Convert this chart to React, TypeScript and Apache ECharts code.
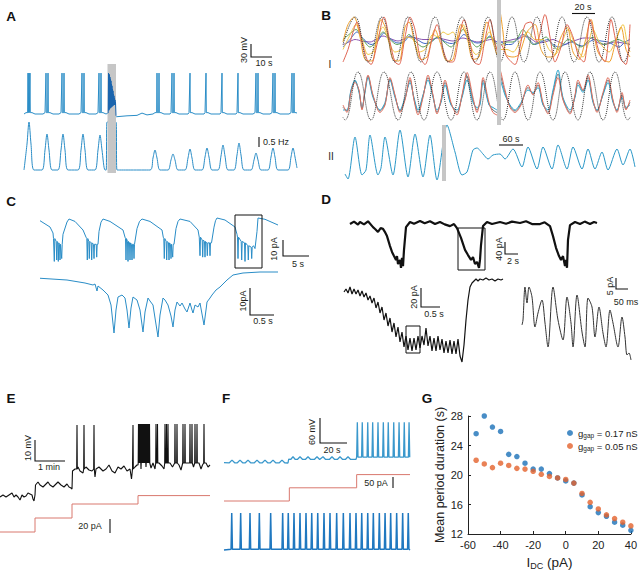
import React, { useEffect, useRef } from "react";
import * as echarts from "echarts";

type Pt = [number, number];
type Spk = [number, number, number];

const FONT = "'Liberation Sans', Arial, sans-serif";

// ---------------- Panel A ----------------
// membrane potential (t in s, mV)
const A_vmBase: Pt[] = [
  [-1.5, -60], [-0.5, -57], [2.5, -57], [4, -60],
  [8, -60], [9, -57], [11.5, -57], [13, -60],
  [16, -60], [17, -57], [19.5, -57], [21, -60],
  [26, -60], [27, -57], [29.5, -57], [31, -60],
  [34.5, -60], [35.5, -57], [38, -57], [39.5, -60], [40.5, -58],
  [44.75, -66], [50, -64], [55, -63], [57.5, -58], [60, -62], [63, -60],
  [64, -57], [67, -57], [68.5, -60],
  [71.5, -60], [72, -57], [74.5, -57], [76, -60],
  [80.5, -60], [81, -57], [82.5, -57], [84, -60],
  [88.5, -60], [89, -57], [90.5, -57], [92, -60],
  [96.5, -60], [97, -57], [98.5, -57], [100, -60],
  [104.5, -60], [105, -57], [106.5, -57], [108, -60],
  [113, -60], [114, -57], [116.5, -57], [118, -60],
  [121.5, -60], [122.5, -57], [125, -57], [126.5, -60],
  [131, -60], [132, -57], [134.5, -57], [135, -58],
];
const A_spikeTimes = [0.5, 1, 1.5, 9.5, 10.5, 17.5, 18.5, 27.5, 28.5, 36, 37, 65, 66, 72.5, 73.5, 81.5, 89.5, 97.5, 105.5, 114.5, 115.5, 123, 124, 132.5, 133.5];
const A_spikePeak = 30;
const A_spikeFoot = -57;
const A_stimBurst: Pt[] = [
  [40.6, -58], [40.75, 30], [40.9, -52], [41.0, 28], [41.15, -50], [41.25, 26], [41.4, -48], [41.5, 21],
  [41.65, -47], [41.75, 17], [41.9, -46], [42.0, 13], [42.15, -45], [42.25, 6], [42.4, -44], [42.5, 2],
  [42.65, -43], [42.75, -5], [42.9, -42], [43.0, -9], [43.15, -41], [43.25, -16], [43.4, -40], [43.5, -20],
  [43.65, -40], [43.75, -25], [43.9, -40], [44.0, -29], [44.15, -40], [44.25, -34], [44.5, -64],
];
// firing rate (Hz)
const A_rate: Pt[] = [
  [-1.5, 0], [0, 1.3], [1, 2.4], [2, 1.3], [3.5, 0],
  [7.5, 0], [9, 1.0], [10, 1.8], [11, 1.0], [12.5, 0],
  [15.5, 0], [17, 1.0], [18, 1.8], [19, 1.0], [20.5, 0],
  [25.5, 0], [27, 1.0], [28, 1.8], [29, 1.0], [30.5, 0],
  [34, 0], [35.5, 1.0], [36.5, 1.75], [37.5, 1.0], [39, 0], [39.6, 0], [40, 2.4], [44.5, 2.4], [45, 0],
  [61.5, 0], [63, 0.6], [64, 1.0], [65, 0.6], [66.5, 0],
  [70.5, 0], [72, 0.5], [73, 0.8], [74, 0.5], [75.5, 0],
  [79, 0], [80.5, 0.6], [81.5, 1.05], [82.5, 0.6], [84, 0],
  [87.5, 0], [89, 0.65], [90, 1.1], [91, 0.65], [92.5, 0],
  [95.5, 0], [97, 0.7], [98, 1.25], [99, 0.7], [100.5, 0],
  [103.5, 0], [105, 0.75], [106, 1.35], [107, 0.75], [108.5, 0],
  [112, 0], [113.5, 0.5], [114.5, 0.85], [115.5, 0.5], [117, 0],
  [120.5, 0], [122, 0.65], [123, 1.1], [124, 0.65], [125.5, 0],
  [130.5, 0], [132, 0.65], [133, 1.1], [134, 0.65], [135, 0.1],
];

// ---------------- Panel B (I) ----------------
const BI_ref: Pt[] = [[0, 0.45], [12, 1.0], [25, 0.1], [39, 1.0], [52, 0.1], [65, 1.0], [78, 0.1], [92, 1.0], [105, 0.1], [119, 1.0], [132, 0.1], [145, 1.0], [157, 0.1], [169, 1.0], [181, 0.1], [194, 1.0], [206, 0.1], [219, 1.0], [231, 0.1], [244, 1.0], [256, 0.1], [269, 1.0], [281, 0.1], [287, 0.4]];
const BI_orange: Pt[] = [[0, 0.5], [5, 0.85], [11, 1.0], [17, 0.6], [22, 0.15], [29, 0.12], [33, 0.5], [38, 0.95], [44, 0.7], [50, 0.15], [56, 0.12], [62, 0.8], [66, 0.9], [72, 0.45], [78, 0.15], [84, 0.2], [92, 0.75], [97, 0.5], [104, 0.12], [110, 0.15], [118, 0.85], [124, 0.6], [130, 0.15], [136, 0.2], [144, 0.9], [150, 0.5], [154, 0.25], [157, 1.1], [160, 0.7], [163, 0.25], [170, 0.2], [176, 0.25], [184, 0.7], [192, 0.85], [198, 0.35], [204, 0.2], [210, 0.2], [218, 0.6], [224, 0.8], [230, 0.3], [236, 0.15], [242, 0.5], [248, 0.95], [254, 0.35], [260, 0.15], [266, 0.1], [272, 0.45], [278, 0.8], [283, 0.35], [287, 0.2]];
const BI_red: Pt[] = [[0, 0.1], [5, 0.35], [10, 0.7], [14, 0.9], [19, 0.5], [24, 0.15], [28, 0.05], [34, 0.45], [41, 1.0], [47, 0.5], [52, 0.1], [56, 0.05], [62, 0.6], [67, 1.0], [72, 0.75], [77, 0.2], [82, 0.05], [89, 0.55], [94, 0.85], [100, 0.35], [106, 0.1], [110, 0.1], [116, 0.6], [121, 0.95], [127, 0.5], [131, 0.1], [136, 0.05], [142, 0.55], [147, 0.95], [152, 0.5], [155, 0.3], [158, 0.45], [164, 0.2], [172, 0.05], [177, 0.4], [182, 0.85], [188, 0.9], [194, 0.5], [202, 1.05], [207, 0.6], [212, 0.1], [218, 0.4], [224, 0.85], [230, 0.6], [236, 0.2], [241, 0.1], [247, 0.95], [252, 0.6], [257, 0.25], [262, 0.1], [268, 0.95], [273, 0.5], [278, 0.15], [283, 0.05], [287, 0.85]];
const BI_yellow: Pt[] = [[0, 0.35], [6, 0.6], [13, 0.85], [19, 0.55], [25, 0.25], [30, 0.3], [40, 0.8], [46, 0.5], [52, 0.3], [58, 0.35], [64, 0.6], [70, 0.55], [76, 0.3], [82, 0.35], [90, 0.65], [95, 0.6], [100, 0.7], [105, 0.65], [110, 0.7], [114, 0.55], [120, 0.85], [126, 0.5], [133, 0.25], [140, 0.4], [146, 0.7], [152, 0.45], [155, 0.35], [158, 0.35], [164, 0.35], [170, 0.3], [178, 0.55], [185, 0.7], [192, 0.55], [200, 0.55], [206, 0.35], [212, 0.25], [219, 0.5], [225, 0.75], [232, 0.45], [240, 0.2], [245, 0.45], [250, 0.75], [255, 0.55], [260, 0.4], [266, 0.3], [273, 0.55], [280, 0.85], [284, 0.5], [287, 0.3]];
const BI_green: Pt[] = [[0, 0.55], [6, 0.65], [13, 0.75], [20, 0.55], [27, 0.4], [33, 0.5], [40, 0.7], [47, 0.55], [54, 0.45], [60, 0.5], [66, 0.65], [73, 0.5], [80, 0.4], [88, 0.5], [95, 0.6], [101, 0.5], [108, 0.4], [114, 0.55], [120, 0.75], [127, 0.55], [134, 0.4], [140, 0.5], [147, 0.6], [152, 0.5], [155, 0.45], [158, 0.45], [164, 0.5], [170, 0.5], [175, 0.6], [180, 0.75], [185, 0.6], [190, 0.45], [196, 0.5], [203, 0.6], [209, 0.45], [215, 0.35], [220, 0.45], [225, 0.55], [231, 0.5], [238, 0.4], [244, 0.5], [250, 0.6], [256, 0.5], [262, 0.45], [268, 0.5], [275, 0.55], [281, 0.5], [287, 0.45]];
const BI_blue: Pt[] = [[0, 0.4], [7, 0.55], [14, 0.7], [21, 0.55], [28, 0.45], [34, 0.5], [41, 0.68], [48, 0.55], [55, 0.48], [61, 0.5], [67, 0.62], [74, 0.55], [82, 0.47], [88, 0.5], [95, 0.6], [101, 0.52], [108, 0.47], [114, 0.5], [121, 0.65], [127, 0.55], [134, 0.48], [140, 0.5], [147, 0.62], [152, 0.52], [155, 0.5], [158, 0.5], [163, 0.45], [168, 0.45], [174, 0.55], [180, 0.65], [186, 0.55], [192, 0.45], [198, 0.5], [205, 0.55], [210, 0.45], [216, 0.4], [222, 0.45], [228, 0.5], [234, 0.45], [240, 0.42], [246, 0.5], [252, 0.55], [258, 0.52], [265, 0.5], [270, 0.45], [276, 0.4], [282, 0.5], [287, 0.55]];
const BI_purple: Pt[] = [[0, 0.45], [6, 0.5], [12, 0.55], [19, 0.52], [27, 0.5], [33, 0.55], [40, 0.62], [47, 0.57], [55, 0.52], [60, 0.55], [66, 0.6], [73, 0.58], [80, 0.55], [88, 0.55], [95, 0.58], [102, 0.55], [110, 0.52], [115, 0.55], [120, 0.58], [128, 0.53], [135, 0.5], [141, 0.52], [148, 0.55], [155, 0.5], [158, 0.5], [164, 0.52], [170, 0.55], [177, 0.58], [183, 0.62], [189, 0.55], [195, 0.48], [202, 0.5], [210, 0.55], [216, 0.5], [222, 0.45], [228, 0.5], [235, 0.55], [241, 0.58], [248, 0.58], [254, 0.5], [260, 0.45], [266, 0.47], [272, 0.5], [280, 0.48], [287, 0.45]];
const BI2_ref: Pt[] = [[0, 0.05], [2, 0.0], [15, 0.96], [28, 0.0], [41, 0.96], [55, 0.0], [68, 0.96], [81, 0.0], [94, 0.96], [108, 0.0], [121, 0.96], [134, 0.0], [147, 0.96], [160, 0.0], [172, 0.96], [185, 0.0], [197, 0.96], [210, 0.0], [222, 0.96], [235, 0.0], [247, 0.96], [260, 0.0], [272, 0.96], [285, 0.0], [287, 0.05]];
const BI2_red: Pt[] = [[0, 0.3], [4, 0.15], [8, 0.55], [12, 0.75], [16, 0.6], [19, 0.2], [22, 0.6], [25, 0.9], [30, 0.5], [37, 0.15], [42, 0.3], [47, 0.85], [52, 0.5], [57, 0.15], [62, 0.4], [67, 0.85], [71, 0.4], [75, 0.1], [80, 0.45], [85, 0.9], [90, 0.5], [94, 0.12], [98, 0.4], [102, 0.8], [108, 0.35], [114, 0.1], [119, 0.5], [124, 0.95], [130, 0.45], [134, 0.15], [137, 0.4], [140, 0.85], [146, 0.35], [150, 0.15], [154, 0.1], [157, 1.0], [162, 0.6], [167, 0.25], [172, 0.15], [178, 0.3], [185, 0.7], [190, 0.5], [195, 0.75], [200, 0.35], [205, 0.12], [210, 0.5], [215, 0.85], [220, 0.4], [227, 0.12], [232, 0.5], [235, 0.8], [240, 0.6], [245, 0.9], [250, 0.4], [254, 0.15], [260, 0.55], [265, 0.85], [270, 0.4], [274, 0.15], [279, 0.55], [283, 0.2], [287, 0.4]];
const BI2_teal: Pt[] = [[0, 0.2], [4, 0.2], [8, 0.6], [12, 0.8], [16, 0.55], [19, 0.25], [22, 0.55], [25, 0.85], [30, 0.45], [37, 0.2], [42, 0.35], [47, 0.8], [52, 0.45], [57, 0.2], [62, 0.45], [67, 0.75], [71, 0.45], [75, 0.2], [80, 0.5], [85, 0.8], [90, 0.45], [94, 0.2], [98, 0.35], [102, 0.7], [108, 0.3], [114, 0.2], [119, 0.45], [124, 0.8], [130, 0.35], [134, 0.25], [137, 0.3], [140, 0.75], [146, 0.3], [150, 0.25], [154, 0.2], [157, 0.8], [162, 0.5], [167, 0.3], [172, 0.2], [178, 0.35], [185, 0.6], [190, 0.55], [195, 0.65], [200, 0.3], [205, 0.2], [210, 0.6], [215, 1.0], [220, 0.45], [227, 0.2], [232, 0.45], [235, 0.7], [240, 0.55], [245, 0.8], [250, 0.35], [254, 0.2], [260, 0.5], [265, 0.75], [270, 0.35], [274, 0.2], [279, 0.45], [283, 0.25], [287, 0.3]];
const BI2_dark: Pt[] = [[0, 0.25], [4, 0.18], [8, 0.58], [12, 0.78], [16, 0.58], [19, 0.22], [22, 0.58], [25, 0.88], [30, 0.48], [37, 0.18], [42, 0.32], [47, 0.82], [52, 0.48], [57, 0.18], [62, 0.42], [67, 0.8], [71, 0.42], [75, 0.15], [80, 0.48], [85, 0.85], [90, 0.48], [94, 0.15], [98, 0.38], [102, 0.75], [108, 0.32], [114, 0.15], [119, 0.48], [124, 0.88], [130, 0.4], [134, 0.2], [137, 0.35], [140, 0.8], [146, 0.32], [150, 0.2], [154, 0.15], [157, 0.9], [162, 0.55], [167, 0.28], [172, 0.18], [178, 0.32], [185, 0.65], [190, 0.52], [195, 0.7], [200, 0.32], [205, 0.15], [210, 0.55], [215, 0.92], [220, 0.42], [227, 0.15], [232, 0.48], [235, 0.75], [240, 0.58], [245, 0.85], [250, 0.38], [254, 0.18], [260, 0.52], [265, 0.8], [270, 0.38], [274, 0.18], [279, 0.5], [283, 0.22], [287, 0.35]];

// ---------------- Panel B (II) ----------------
const BII_trace: Pt[] = [[0, 0.12], [7.5, 0.02], [25, 0.86], [42.5, 0.1], [52.5, 0.2], [62.5, 0.9], [82.5, 0.1], [90, 0.24], [100, 0.86], [120, 0.1], [137.5, 1.0], [157.5, 0.06], [175, 0.92], [195, 0.06], [212.5, 0.9], [230, 0.0], [255, 1.1], [275, 0.56], [292.5, 0.1], [305, 0.16], [320, 0.6], [330, 0.64], [345, 0.52], [357.5, 0.42], [370, 0.5], [387.5, 0.52], [400, 0.42], [420, 0.62], [442.5, 0.26], [457.5, 0.66], [480, 0.22], [495, 0.66], [517.5, 0.22], [532.5, 0.7], [555, 0.22], [570, 0.66], [592.5, 0.22], [607.5, 0.62], [625, 0.22], [642.5, 0.56], [657.5, 0.2], [680, 0.62], [695, 0.3], [712.5, 0.62], [725, 0.26]];

// ---------------- Panel C ----------------
const C_top: Pt[] = [
  [0, -0.5], [2, -4.9], [2.6, -9.1], [2.7, -13],
  [4.5, -17], [4.6, -10], [5.4, -1.4], [5.8, 0.7], [7, -1], [8.6, -7], [9.2, -12],
  [11.6, -17], [11.8, -8], [12.2, -1.5], [12.6, 0.7], [14, -1], [16.6, -7], [17, -12],
  [19, -17], [19.4, -6], [19.9, -1], [20.4, 0.7], [22, -1], [24.4, -7], [24.65, -12],
  [26.8, -17], [27.2, -6], [27.6, -1], [28, 0.7], [30, -1], [31.6, -7], [31.85, -12],
  [34.3, -16], [34.8, -5], [35.1, -0.5], [35.4, 1.4], [37, 0], [39, -4.9], [39.4, -10],
  [42.7, -18], [43, -20], [43.4, -8], [43.6, 1.4], [45, 0.5], [47.6, -3.5],
];
const C_topEvents: Spk[] = [
  [2.86, -13, -29], [3.34, -15, -28], [3.66, -16, -29], [4.0, -17, -28], [4.34, -17, -27],
  [9.46, -13, -28], [9.86, -15, -27], [10.34, -16, -28], [10.8, -17, -27], [11.34, -17, -26],
  [17.2, -13, -28], [17.6, -15, -29], [18.0, -16, -28], [18.4, -17, -28], [18.8, -17, -27],
  [24.86, -13, -27], [25.34, -15, -28], [25.8, -16, -28], [26.2, -17, -27], [26.54, -17, -26],
  [32.0, -12, -25], [32.54, -14, -26], [33.0, -15, -26], [33.46, -16, -25], [34.0, -16, -25],
  [39.6, -12, -27], [40.34, -15, -28], [41.0, -16, -29], [41.66, -18, -28], [42.34, -19, -27],
];
const C_zoom: Pt[] = [[0, -0.1], [0.54, -0.8], [0.9, -2.0], [1.06, -2.8], [1.1, -2.4], [1.14, -5.2], [1.16, -3.2], [1.26, -4.8], [1.36, -6.8], [1.42, -10.8], [1.48, -22], [1.52, -12.8], [1.56, -7.6], [1.64, -6.8], [1.7, -8], [1.74, -12.8], [1.78, -20], [1.82, -12], [1.86, -7.6], [1.94, -8.8], [2.0, -12.8], [2.06, -21.6], [2.1, -13.6], [2.16, -8], [2.2, -9.2], [2.26, -10.8], [2.3, -16], [2.36, -23.6], [2.4, -14.8], [2.46, -8], [2.5, -8.8], [2.56, -10.8], [2.62, -15.2], [2.66, -19.6], [2.7, -12.8], [2.74, -9.6], [2.8, -11.2], [2.84, -10], [2.9, -12.4], [2.94, -13.6], [3.0, -10], [3.04, -12.8], [3.06, -14], [3.1, -10.8], [3.16, -11.6], [3.2, -10], [3.24, -14.4], [3.28, -18.8], [3.32, -12.8], [3.34, -9.6], [3.4, -8], [3.44, -6.8], [3.52, -4.8], [3.6, -3.6], [3.74, -0.8], [3.86, 1.2], [4.06, 2.0], [4.4, 2.4], [4.76, 2.4]];

// ---------------- Panel D ----------------
const D_top: Pt[] = [[0, -3], [0.6, 4], [1.2, -5], [1.5, 3], [2.1, -4], [2.7, 5], [3.45, -12], [3.8, -18], [4.2, -26], [4.6, -15], [4.95, -17], [5.3, -28], [5.55, -38], [6, -67], [6.3, -84], [6.6, -96], [6.9, -107], [7.05, -96], [7.2, -119], [7.5, -107], [7.65, -130], [7.8, -101], [7.95, -125], [8.1, -78], [8.4, -12], [9, 3], [9.6, -2], [10.5, 6], [11.2, -1], [12, 5], [12.75, -3], [13.5, 3], [14.2, -4], [15, -9], [15.6, -3], [16.05, -15], [16.65, -43], [17.25, -78], [17.7, -93], [18.15, -107], [18.45, -99], [18.75, -119], [19.05, -113], [19.35, -130], [19.5, -107], [19.65, -64], [19.95, -9], [20.55, 3], [21.3, -3], [22.5, 3], [23.4, -2], [24.3, 4], [25.5, 0], [26.4, 5], [27.3, -3], [28.5, -3], [29.2, 2], [30, -9], [30.45, -38], [30.9, -72], [31.35, -96], [31.65, -107], [31.95, -96], [32.25, -125], [32.4, -107], [32.55, -130], [32.7, -49], [33, -6], [33.75, 3], [34.5, -3], [35.2, 4], [36, -3], [36.6, 3], [37.05, 0]];
const D_burst: Pt[] = [[0, 0], [0.05, 3.3], [0.1, -1.1], [0.15, 5.5], [0.2, -2.2], [0.25, 3.3], [0.3, -2.2], [0.35, 2.2], [0.4, -4.4], [0.45, 1.1], [0.5, -5.5], [0.55, -1.1], [0.6, -8.8], [0.65, -4.4], [0.7, -12.1], [0.75, -6.6], [0.8, -17.6], [0.85, -11], [0.9, -23.1], [0.95, -16.5], [1.0, -30.8], [1.05, -23.1], [1.1, -37.4], [1.15, -28.6], [1.2, -44], [1.25, -34.1], [1.3, -49.5], [1.35, -38.5], [1.4, -55], [1.45, -44], [1.5, -60.5], [1.55, -48.4], [1.6, -63.8], [1.65, -50.6], [1.7, -64.9], [1.75, -50.6], [1.8, -63.8], [1.85, -48.4], [1.9, -61.6], [1.95, -48.4], [2.0, -58.3], [2.05, -39.6], [2.1, -59.4], [2.15, -48.4], [2.2, -64.9], [2.25, -50.6], [2.3, -64.9], [2.35, -48.4], [2.4, -63.8], [2.45, -51.7], [2.5, -67.1], [2.55, -53.9], [2.6, -67.1], [2.65, -52.8], [2.7, -68.2], [2.75, -53.9], [2.8, -68.2], [2.85, -51.7], [2.9, -70.4], [2.95, -77], [3.0, -58.3], [3.05, -30.8], [3.1, -8.8], [3.15, 5.5], [3.2, 9.9], [3.25, 12.1], [3.3, 14.3], [3.35, 12.1], [3.4, 14.3], [3.475, 13.2], [3.55, 15.4], [3.625, 13.2], [3.7, 14.3], [3.775, 12.1], [3.85, 14.3], [3.925, 13.2], [3.975, 14.3]];
const D_osc: Pt[] = [[0, 2.5], [3, 5], [9, 21.5], [15, 13.5], [21, 21.5], [30, 16.5], [39, 1.5], [48, 8.5], [60, 15], [69, 3.5], [78, -8.5], [93, 21.5], [108, 5], [123, -5], [135, 16.5], [147, 3.5], [153, -8.5], [165, 17.5], [180, -1], [189, -8.5], [198, 16], [210, 11.5], [219, -3.5], [231, 11.5], [243, -1.5], [252, -8.5], [264, 10], [273, 3.5], [288, -8.5], [300, 6.5], [309, -3.5], [315, -12.5], [321, -11.5], [327, -15]];

// ---------------- Panel E ----------------
const E_vmBase: Pt[] = [
  [0, -60], [6, -59], [12, -60], [18, -59], [24, -58], [28, -60], [32, -59], [36, -60], [40, -61.5], [44, -59], [48, -60], [52, -59.5], [56, -58], [60, -58.5], [64, -59], [66, -61], [68, -62], [70, -59],
  [71, -54], [76, -52.5], [80, -54], [86, -55], [96, -52.5], [100, -54], [106, -55], [116, -52.5], [122, -54], [128, -55], [134, -53.5], [138, -55], [142, -55.5], [144, -56],
  [145, -47], [150, -46], [156, -45], [160, -47], [166, -48], [172, -45], [178, -46.5], [184, -47], [190, -50], [192, -46], [198, -45], [206, -47], [212, -46], [218, -44], [224, -47], [230, -48], [236, -45], [242, -46], [248, -44.5], [254, -47], [260, -46], [263, -51], [265, -46], [270, -45], [274, -44],
  [276, -44], [282, -46], [286, -42], [292, -45], [296, -43], [302, -45.5], [306, -43], [310, -46], [318, -43], [324, -44.5], [328, -46], [340, -43], [345, -45], [358, -44], [362, -46.5], [375, -43], [387, -45], [398, -43], [402, -46], [405, -44], [412, -43], [416, -45], [420, -44],
];
const E_spikes: Spk[] = [
  [154, -46, -24], [168, -46, -24], [188, -46, -24], [266, -46, -24],
  [277, -43, -23.5], [279, -43, -23.5], [281, -43, -23.5], [283, -43, -23.5], [285, -43, -23.5], [287, -43, -23.5], [289, -43, -23.5], [291, -43, -23.5], [293, -43, -23.5], [295, -43, -23.5], [297, -43, -23.5], [299, -43, -23.5],
  [312, -43, -23.5], [315, -43, -23.5], [330, -43, -23.5], [333, -43, -23.5], [336, -43, -23.5], [350, -43, -23.5], [354, -43, -23.5], [366, -43, -23.5], [370, -43, -23.5], [380, -43, -23.5], [384, -43, -23.5], [390, -43, -23.5], [394, -43, -23.5], [408, -43, -23.5],
];
const E_stepTimes = [0, 70, 144, 276, 420];
const E_stepLevels = [0, 20, 40, 52, 52];

// ---------------- Panel F ----------------
const F_vmBase: Pt[] = [[0, -59], [4, -59.5], [6, -53], [8, -59.5], [10, -59.5], [12, -53], [14, -59.5], [16, -59.5], [18, -53], [20, -59.5], [22.75, -59.5], [24.75, -53], [26.75, -59.5], [28.75, -59.5], [30.75, -53], [32.75, -59.5], [34.75, -59.5], [36.75, -53], [38.75, -59.5], [41.5, -59.5], [43.5, -53], [45.5, -59.5], [48, -60], [48.5, -51], [50, -51.5], [51.75, -45], [53.5, -51.5], [55, -51.5], [57, -45], [59, -51.5], [61, -51.5], [63, -45], [65, -51.5], [67.75, -51.5], [69.75, -45], [71.75, -51.5], [72.25, -51.5], [74.25, -45], [76.25, -51.5], [79, -51.5], [81, -45], [83, -51.5], [85, -51.5], [87, -45], [89, -51.5], [91, -51.5], [93, -45], [95, -51.5], [99, -51], [99.5, -46], [139.5, -46]];
const F_topSpikeTimes = [100, 103.7, 107.8, 111.5, 115.5, 119.5, 123.2, 127.3, 131.3, 135.2, 138.8];
const F_topFoot = -46;
const F_topPeak = 38;
const F_stepTimes = [0, 49, 99.5, 139.5];
const F_stepLevels = [0, 55, 110, 110];
const F_bottomBase: Pt[] = [[0, -60], [139.5, -60]];
const F_bottomSpikeTimes = [5.8, 12.5, 19.5, 26.5, 35, 44, 48.2, 52.5, 57, 61.5, 65.8, 70.3, 75, 79.5, 84.5, 89.5, 94.5, 99, 103.3, 107.8, 112, 116.5, 120.8, 125, 129.5, 134, 138.2];
const F_bottomFoot = -58;
const F_bottomPeak = 29;

// ---------------- Panel G ----------------
const G_idc = [-55, -50, -45, -40, -35, -30, -25, -20, -15, -10, -5, 0, 5, 10, 15, 20, 25, 30, 35, 40];
const G_high = [25.6, 28.0, 26.5, 25.9, 22.8, 22.5, 21.6, 20.8, 20.8, 20.2, 19.6, 19.2, 18.9, 17.3, 15.7, 14.9, 14.4, 13.6, 13.2, 12.5];
const G_low = [22.0, 21.5, 21.0, 21.6, 21.3, 20.9, 20.8, 20.5, 20.1, 19.8, 19.6, 19.4, 18.9, 17.5, 16.3, 15.4, 14.6, 14.1, 13.6, 13.1];
const G_names = ["0.17 nS", "0.05 nS"];

// ---------------- helpers ----------------
function withSpikes(base: Pt[], spikes: Spk[], hw: number): Pt[] {
  const pts: Pt[] = base.slice();
  for (const [t, f, p] of spikes) {
    pts.push([t - hw, f], [t, p], [t + hw, f]);
  }
  pts.sort((a, b) => a[0] - b[0]);
  return pts;
}
const uniform = (times: number[], foot: number, peak: number): Spk[] => times.map((t) => [t, foot, peak] as Spk);
const steps = (times: number[], levels: number[]): Pt[] => times.map((t, i) => [t, levels[i]] as Pt);

// layout: id, left, top, width, height, xmin, xmax, ymin, ymax
const LAYOUT: [string, number, number, number, number, number, number, number, number][] = [
  ["A1", 23, 70, 274, 48, -2, 135, -68.8, 36.8],
  ["A2", 23, 118, 274, 54, -2, 135, -0.1, 2.6],
  ["BI1", 343, 13, 290, 56, 0, 290, -0.04, 1.08],
  ["BI2", 343, 68, 290, 56, 0, 290, -0.08, 1.04],
  ["BII", 345, 124, 292, 58, 0, 730, -0.04, 1.12],
  ["C1", 40, 214, 240, 52, 0, 48, -32.2, 4.2],
  ["C2", 40, 270, 240, 72, 0, 4.8, -25.6, 3.2],
  ["D1", 350, 216, 248, 56, 0, 37.2, -142.1, 20.3],
  ["D2", 344, 276, 160, 90, 0, 4, -81.4, 17.6],
  ["D3", 522, 282, 110, 84, 0, 330, -18, 24],
  ["E1", 0, 420, 210, 85, 0, 420, -64, -21.5],
  ["E2", 0, 490, 210, 46, 0, 420, -5.7, 60],
  ["F1", 224, 418, 186, 50, 0, 139.5, -72, 48],
  ["F2", 224, 468, 186, 38, 0, 139.5, -20.8, 137.5],
  ["F3", 224, 508, 186, 48, 0, 139.5, -74.4, 40.8],
  ["G", 468, 416, 163, 121, -60, 40, 12, 28],
];
const GI: Record<string, number> = {};
LAYOUT.forEach((l, i) => (GI[l[0]] = i));

function line(g: string, data: Pt[], color: string, width = 1, extra: any = {}) {
  return {
    type: "line", xAxisIndex: GI[g], yAxisIndex: GI[g], data, showSymbol: false, symbol: "none",
    silent: true, clip: false, lineStyle: { color, width }, ...extra,
  };
}

const TXT = (x: number, y: number, text: string, size = 9, extra: any = {}) => ({
  type: "text", x, y, z: 30,
  style: { text, fontSize: size, fontFamily: FONT, fill: "#231f20", align: "center", verticalAlign: "middle" },
  ...extra,
});
const ROT = (x: number, y: number, text: string, size = 9) => TXT(x, y, text, size, { rotation: Math.PI / 2 });
const PL = (pts: number[][], w = 1.1) => ({
  type: "polyline", z: 30, shape: { points: pts }, style: { stroke: "#111", lineWidth: w, fill: null },
});
const BOX = (x: number, y: number, w: number, h: number) => ({
  type: "rect", z: 30, shape: { x, y, width: w, height: h }, style: { fill: null, stroke: "#111", lineWidth: 1 },
});
const GRAY = (x: number, y: number, w: number, h: number) => ({
  type: "rect", z: 10, shape: { x, y, width: w, height: h }, style: { fill: "#c6c6c6" },
});
const LETTER = (x: number, y: number, t: string) => TXT(x, y, t, 13.5, { style: { text: t, fontSize: 13.5, fontWeight: "bold", fontFamily: FONT, fill: "#111", align: "center", verticalAlign: "middle" } });

function buildOption() {
  const grid = LAYOUT.map((l) => ({ left: l[1], top: l[2], width: l[3], height: l[4], containLabel: false }));
  const xAxis: any[] = LAYOUT.map((l, i) => ({ gridIndex: i, type: "value", min: l[5], max: l[6], show: false }));
  const yAxis: any[] = LAYOUT.map((l, i) => ({ gridIndex: i, type: "value", min: l[7], max: l[8], show: false }));
  const gi = GI["G"];
  const axisCommon = {
    show: true,
    axisLine: { show: true, onZero: false, lineStyle: { color: "#222", width: 1 } },
    axisTick: { show: true, inside: true, length: 3, lineStyle: { color: "#222" } },
    axisLabel: { fontSize: 11, color: "#222", fontFamily: FONT, margin: 5 },
    splitLine: { show: false },
  };
  xAxis[gi] = {
    ...xAxis[gi], ...axisCommon, interval: 20,
    name: "{a|I}{b|DC}{a| (pA)}", nameLocation: "middle", nameGap: 20,
    nameTextStyle: {
      rich: {
        a: { fontSize: 13.5, fontFamily: FONT, color: "#222", lineHeight: 16 },
        b: { fontSize: 9, fontFamily: FONT, color: "#222", lineHeight: 9, verticalAlign: "bottom" },
      },
    },
  };
  yAxis[gi] = {
    ...yAxis[gi], ...axisCommon, interval: 4,
    name: "Mean period duration (s)", nameLocation: "middle", nameGap: 21,
    nameTextStyle: { fontSize: 12.5, fontFamily: FONT, color: "#222" },
  };

  const TEAL = "#2a8dc7";
  const series: any[] = [
    line("A1", withSpikes(A_vmBase, uniform(A_spikeTimes, A_spikeFoot, A_spikePeak), 0.15), TEAL, 1),
    line("A1", A_stimBurst, "#1a64ad", 1, { z: 20 }),
    line("A2", A_rate, TEAL, 1, { smooth: 0.3 }),
    line("BI1", BI_purple, "#8b55b0", 1, { smooth: 0.3 }),
    line("BI1", BI_blue, "#4169c8", 1, { smooth: 0.3 }),
    line("BI1", BI_green, "#5fa35a", 1, { smooth: 0.3 }),
    line("BI1", BI_yellow, "#f2c94a", 1, { smooth: 0.3 }),
    line("BI1", BI_orange, "#f0a02c", 1, { smooth: 0.3 }),
    line("BI1", BI_red, "#e06452", 1, { smooth: 0.3 }),
    line("BI1", BI_ref, "#333", 1, { smooth: 0.45, lineStyle: { color: "#333", width: 1, type: "dotted" } }),
    line("BI2", BI2_dark, "#5d6670", 0.9, { smooth: 0.3 }),
    line("BI2", BI2_teal, "#2aa4cc", 1, { smooth: 0.3 }),
    line("BI2", BI2_red, "#e0705e", 1, { smooth: 0.3 }),
    line("BI2", BI2_ref, "#333", 1, { smooth: 0.45, lineStyle: { color: "#333", width: 1, type: "dotted" } }),
    line("BII", BII_trace, "#2a98c8", 1, { smooth: 0.25 }),
    line("C1", withSpikes(C_top, C_topEvents, 0.1), TEAL, 1),
    line("C2", C_zoom, TEAL, 1),
    line("D1", D_top, "#111", 2.2),
    line("D2", D_burst, "#111", 1.2),
    line("D3", D_osc, "#333", 1, { smooth: 0.3 }),
    line("E1", withSpikes(E_vmBase, E_spikes, 0.6), "#111", 1.1),
    line("E2", steps(E_stepTimes, E_stepLevels), "#d9786e", 1, { step: "end" }),
    line("F1", withSpikes(F_vmBase, uniform(F_topSpikeTimes, F_topFoot, F_topPeak), 0.5), "#3a98cc", 1.3),
    line("F2", steps(F_stepTimes, F_stepLevels), "#d9786e", 1, { step: "end" }),
    line("F3", withSpikes(F_bottomBase, uniform(F_bottomSpikeTimes, F_bottomFoot, F_bottomPeak), 0.5), "#1f78c0", 1.5),
    {
      type: "scatter", name: G_names[0], xAxisIndex: gi, yAxisIndex: gi, symbolSize: 5.5,
      itemStyle: { color: "#1a70b8" }, data: G_idc.map((x, i) => [x, G_high[i]]),
    },
    {
      type: "scatter", name: G_names[1], xAxisIndex: gi, yAxisIndex: gi, symbolSize: 5.5,
      itemStyle: { color: "#e4622c" }, data: G_idc.map((x, i) => [x, G_low[i]]),
    },
  ];

  const graphic: any[] = [
    LETTER(11, 16, "A"), LETTER(326, 15, "B"), LETTER(11, 201, "C"), LETTER(326, 199, "D"),
    LETTER(11, 398, "E"), LETTER(226, 398, "F"), LETTER(427, 398, "G"),
    GRAY(107.5, 64, 8.5, 109), GRAY(497, 0, 4, 125), GRAY(442, 125, 4, 56),
    // A scale bars
    PL([[251, 44], [251, 57], [272, 57]]), ROT(244, 50, "30 mV"), TXT(264, 63, "10 s"),
    PL([[259, 137], [259, 147]]), TXT(276, 141.5, "0.5 Hz"),
    // B
    PL([[572, 13.5], [595, 13.5]]), TXT(583, 7, "20 s"),
    PL([[499, 145], [523, 145]]), TXT(511, 139, "60 s"),
    TXT(330, 64, "I", 10), TXT(331, 156, "II", 10),
    // C
    BOX(235, 215, 27, 53),
    PL([[283, 240], [283, 256], [309, 256]]), ROT(274, 249, "10 pA"), TXT(298, 263.5, "5 s"),
    PL([[250, 288], [250, 315], [274, 315]]), ROT(243, 301, "10pA"), TXT(263, 321, "0.5 s"),
    // D
    BOX(458, 228, 27, 42), BOX(406, 326, 14, 27),
    PL([[505, 242], [505, 254], [518, 254]]), ROT(499, 249, "40 pA"), TXT(513, 260.5, "2 s"),
    PL([[421, 288], [421, 307], [440, 307]]), ROT(413.5, 297, "20 pA"), TXT(434, 313.5, "0.5 s"),
    PL([[616, 278], [616, 289], [628, 289]]), ROT(610, 286, "5 pA"), TXT(626, 302, "50 ms"),
    // E
    PL([[35, 440], [35, 461], [65, 461]]), ROT(28, 448, "10 mV"), TXT(49, 467, "1 min"),
    TXT(90, 526, "20 pA"), PL([[110, 519], [110, 533]]),
    // F
    PL([[320, 418], [320, 443], [347, 443]]), ROT(312, 432, "60 mV"), TXT(332, 450, "20 s"),
    TXT(376, 482.5, "50 pA"), PL([[393, 477], [393, 488]]),
  ];

  return {
    animation: false,
    backgroundColor: "#ffffff",
    grid, xAxis, yAxis, series, graphic,
    legend: {
      show: true, data: G_names, orient: "vertical", left: 562, top: 423,
      itemWidth: 6, itemHeight: 6, itemGap: 2, icon: "circle",
      formatter: (name: string) => `{g|g}{s|gap}{g| = ${name}}`,
      textStyle: {
        fontSize: 9.5, fontFamily: FONT, color: "#222",
        rich: {
          g: { fontSize: 9.5, fontFamily: FONT, color: "#222", lineHeight: 12 },
          s: { fontSize: 6.5, fontFamily: FONT, color: "#222", lineHeight: 7, verticalAlign: "bottom" },
        },
      },
    },
  };
}

export default function App() {
  const ref = useRef<HTMLDivElement>(null);
  useEffect(() => {
    if (!ref.current) return;
    const chart = echarts.init(ref.current, undefined, { renderer: "svg" });
    chart.setOption(buildOption() as any);
    return () => chart.dispose();
  }, []);
  return (
    <div
      ref={ref}
      style={{ position: "absolute", left: 0, top: 0, width: 640, height: 571, background: "#fff" }}
    />
  );
}
